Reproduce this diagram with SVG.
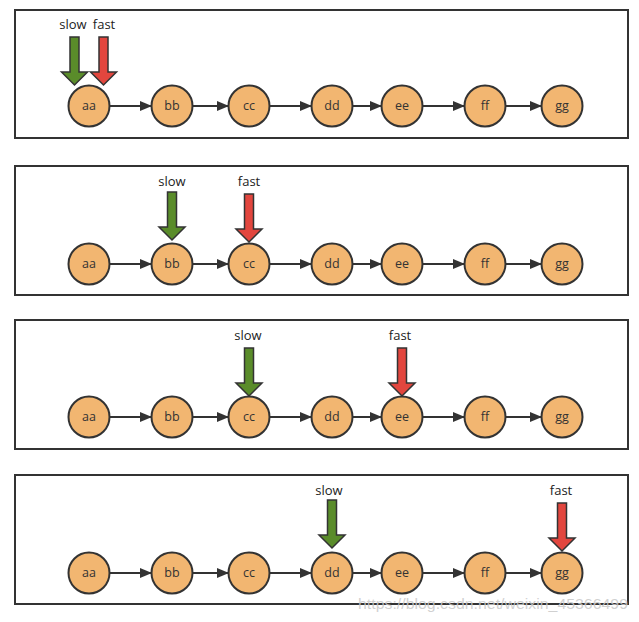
<svg xmlns="http://www.w3.org/2000/svg" width="639" height="622" viewBox="0 0 639 622">
<defs>
<marker id="ah" markerUnits="userSpaceOnUse" markerWidth="12" markerHeight="10" refX="11" refY="5" orient="auto">
<path d="M0,0 L12,5 L0,10 z" fill="#333"/>
</marker>
<style>
.panel{fill:#fff;stroke:#333;stroke-width:2}
.node circle{fill:#f2b671;stroke:#333;stroke-width:2}
.node text{font-family:"Open Sans","Noto Sans",sans-serif;font-size:12.5px;fill:#333;text-anchor:middle}
.conn line{stroke:#333;stroke-width:2;marker-end:url(#ah)}
.lbl{font-family:"Open Sans","Noto Sans",sans-serif;font-size:13px;fill:#222;text-anchor:middle}
.slow{fill:#5a8c2a;stroke:#333;stroke-width:1.5}
.fast{fill:#e2463e;stroke:#333;stroke-width:1.5}
</style>
</defs>
<rect width="639" height="622" fill="#fff"/>

<!-- Panel 1 -->
<rect class="panel" x="15" y="10" width="613" height="128"/>
<g class="conn">
<line x1="110" y1="106" x2="151" y2="106"/>
<line x1="193" y1="106" x2="228" y2="106"/>
<line x1="270" y1="106" x2="311" y2="106"/>
<line x1="353" y1="106" x2="381" y2="106"/>
<line x1="423" y1="106" x2="464" y2="106"/>
<line x1="506" y1="106" x2="541" y2="106"/>
</g>
<g id="p1-aa" class="node"><circle cx="89" cy="106" r="20.5"/><text x="89" y="110">aa</text></g>
<g id="p1-bb" class="node"><circle cx="172" cy="106" r="20.5"/><text x="172" y="110">bb</text></g>
<g id="p1-cc" class="node"><circle cx="249" cy="106" r="20.5"/><text x="249" y="110">cc</text></g>
<g id="p1-dd" class="node"><circle cx="332" cy="106" r="20.5"/><text x="332" y="110">dd</text></g>
<g id="p1-ee" class="node"><circle cx="402" cy="106" r="20.5"/><text x="402" y="110">ee</text></g>
<g id="p1-ff" class="node"><circle cx="485" cy="106" r="20.5"/><text x="485" y="110">ff</text></g>
<g id="p1-gg" class="node"><circle cx="562" cy="106" r="20.5"/><text x="562" y="110">gg</text></g>
<g id="p1-slow"><text class="lbl" x="73" y="29">slow</text>
<polygon class="slow" transform="translate(74.5,37)" points="-4.5,0 4.5,0 4.5,35 13,35 0,48 -13,35 -4.5,35"/></g>
<g id="p1-fast"><text class="lbl" x="104" y="29">fast</text>
<polygon class="fast" transform="translate(103.5,37)" points="-4.5,0 4.5,0 4.5,35 13,35 0,48 -13,35 -4.5,35"/></g>

<!-- Panel 2 -->
<rect class="panel" x="15" y="166" width="613" height="129"/>
<g class="conn">
<line x1="110" y1="264" x2="151" y2="264"/>
<line x1="193" y1="264" x2="228" y2="264"/>
<line x1="270" y1="264" x2="311" y2="264"/>
<line x1="353" y1="264" x2="381" y2="264"/>
<line x1="423" y1="264" x2="464" y2="264"/>
<line x1="506" y1="264" x2="541" y2="264"/>
</g>
<g id="p2-aa" class="node"><circle cx="89" cy="264" r="20.5"/><text x="89" y="268">aa</text></g>
<g id="p2-bb" class="node"><circle cx="172" cy="264" r="20.5"/><text x="172" y="268">bb</text></g>
<g id="p2-cc" class="node"><circle cx="249" cy="264" r="20.5"/><text x="249" y="268">cc</text></g>
<g id="p2-dd" class="node"><circle cx="332" cy="264" r="20.5"/><text x="332" y="268">dd</text></g>
<g id="p2-ee" class="node"><circle cx="402" cy="264" r="20.5"/><text x="402" y="268">ee</text></g>
<g id="p2-ff" class="node"><circle cx="485" cy="264" r="20.5"/><text x="485" y="268">ff</text></g>
<g id="p2-gg" class="node"><circle cx="562" cy="264" r="20.5"/><text x="562" y="268">gg</text></g>
<g id="p2-slow"><text class="lbl" x="172" y="186">slow</text>
<polygon class="slow" transform="translate(172,192)" points="-4.5,0 4.5,0 4.5,35 13,35 0,48 -13,35 -4.5,35"/></g>
<g id="p2-fast"><text class="lbl" x="249" y="186">fast</text>
<polygon class="fast" transform="translate(249,194)" points="-4.5,0 4.5,0 4.5,35 13,35 0,48 -13,35 -4.5,35"/></g>

<!-- Panel 3 -->
<rect class="panel" x="15" y="320" width="613" height="129"/>
<g class="conn">
<line x1="110" y1="417" x2="151" y2="417"/>
<line x1="193" y1="417" x2="228" y2="417"/>
<line x1="270" y1="417" x2="311" y2="417"/>
<line x1="353" y1="417" x2="381" y2="417"/>
<line x1="423" y1="417" x2="464" y2="417"/>
<line x1="506" y1="417" x2="541" y2="417"/>
</g>
<g id="p3-aa" class="node"><circle cx="89" cy="417" r="20.5"/><text x="89" y="421">aa</text></g>
<g id="p3-bb" class="node"><circle cx="172" cy="417" r="20.5"/><text x="172" y="421">bb</text></g>
<g id="p3-cc" class="node"><circle cx="249" cy="417" r="20.5"/><text x="249" y="421">cc</text></g>
<g id="p3-dd" class="node"><circle cx="332" cy="417" r="20.5"/><text x="332" y="421">dd</text></g>
<g id="p3-ee" class="node"><circle cx="402" cy="417" r="20.5"/><text x="402" y="421">ee</text></g>
<g id="p3-ff" class="node"><circle cx="485" cy="417" r="20.5"/><text x="485" y="421">ff</text></g>
<g id="p3-gg" class="node"><circle cx="562" cy="417" r="20.5"/><text x="562" y="421">gg</text></g>
<g id="p3-slow"><text class="lbl" x="248" y="340">slow</text>
<polygon class="slow" transform="translate(249,348)" points="-4.5,0 4.5,0 4.5,35 13,35 0,48 -13,35 -4.5,35"/></g>
<g id="p3-fast"><text class="lbl" x="400" y="340">fast</text>
<polygon class="fast" transform="translate(402,348)" points="-4.5,0 4.5,0 4.5,35 13,35 0,48 -13,35 -4.5,35"/></g>

<!-- Panel 4 -->
<rect class="panel" x="15" y="475" width="613" height="129"/>
<g class="conn">
<line x1="110" y1="573" x2="151" y2="573"/>
<line x1="193" y1="573" x2="228" y2="573"/>
<line x1="270" y1="573" x2="311" y2="573"/>
<line x1="353" y1="573" x2="381" y2="573"/>
<line x1="423" y1="573" x2="464" y2="573"/>
<line x1="506" y1="573" x2="541" y2="573"/>
</g>
<g id="p4-aa" class="node"><circle cx="89" cy="573" r="20.5"/><text x="89" y="577">aa</text></g>
<g id="p4-bb" class="node"><circle cx="172" cy="573" r="20.5"/><text x="172" y="577">bb</text></g>
<g id="p4-cc" class="node"><circle cx="249" cy="573" r="20.5"/><text x="249" y="577">cc</text></g>
<g id="p4-dd" class="node"><circle cx="332" cy="573" r="20.5"/><text x="332" y="577">dd</text></g>
<g id="p4-ee" class="node"><circle cx="402" cy="573" r="20.5"/><text x="402" y="577">ee</text></g>
<g id="p4-ff" class="node"><circle cx="485" cy="573" r="20.5"/><text x="485" y="577">ff</text></g>
<g id="p4-gg" class="node"><circle cx="562" cy="573" r="20.5"/><text x="562" y="577">gg</text></g>
<g id="p4-slow"><text class="lbl" x="329" y="495">slow</text>
<polygon class="slow" transform="translate(332,500)" points="-4.5,0 4.5,0 4.5,35 13,35 0,48 -13,35 -4.5,35"/></g>
<g id="p4-fast"><text class="lbl" x="561" y="495">fast</text>
<polygon class="fast" transform="translate(562,503)" points="-4.5,0 4.5,0 4.5,35 13,35 0,48 -13,35 -4.5,35"/></g>

<text x="358" y="609" font-family="Liberation Sans, Arial, sans-serif" font-size="14" fill="#c8c8c8" fill-opacity="0.85" textLength="270" lengthAdjust="spacingAndGlyphs">https://blog.csdn.net/weixin_45366499</text>
</svg>
